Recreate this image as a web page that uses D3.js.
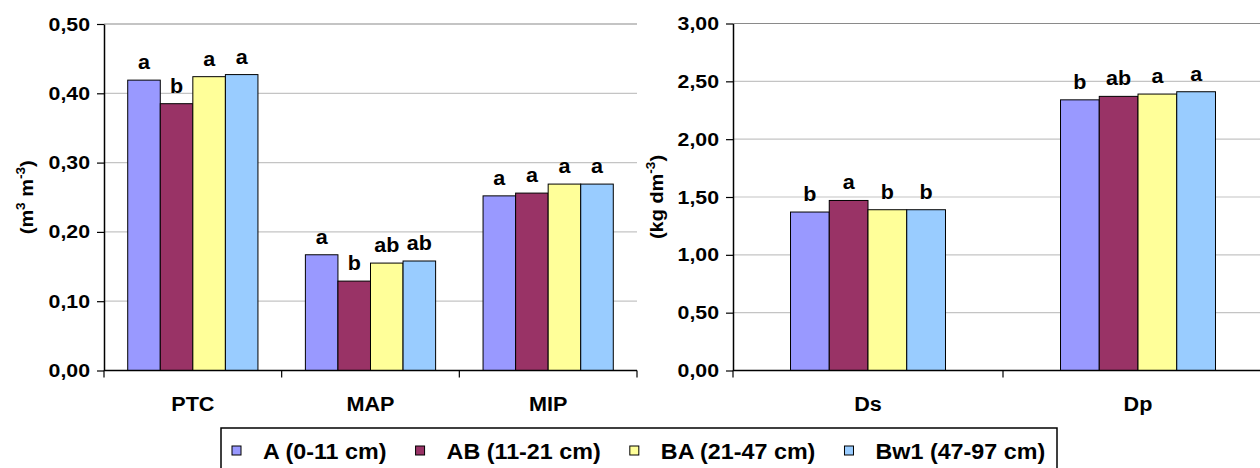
<!DOCTYPE html>
<html>
<head>
<meta charset="utf-8">
<script src="https://cdn.jsdelivr.net/npm/d3@7"></script>
<style>
  body { margin: 0; background: #fff; }
  svg { display: block; font-family: "Liberation Sans", Arial, sans-serif; font-weight: bold; }
</style>
</head>
<body>
<svg width="1260" height="468"></svg>
<script>
(function () {

  // horizons (series) and colours
  const horizons = ['A (0-11 cm)', 'AB (11-21 cm)', 'BA (21-47 cm)', 'Bw1 (47-97 cm)'];
  const colors = ['#9999FF', '#993366', '#FFFF99', '#99CCFF'];

  // left panel: porosity
  const poroCats = ['PTC', 'MAP', 'MIP'];
  const poroA = [0.419, 0.167, 0.252];
  const poroAB = [0.385, 0.129, 0.256];
  const poroBA = [0.424, 0.155, 0.269];
  const poroBw1 = [0.427, 0.158, 0.269];
  const poroLettersA = ['a', 'a', 'a'];
  const poroLettersAB = ['b', 'b', 'a'];
  const poroLettersBA = ['a', 'ab', 'a'];
  const poroLettersBw1 = ['a', 'ab', 'a'];
  const poroTicks = [0, 0.1, 0.2, 0.3, 0.4, 0.5];

  // right panel: density
  const densCats = ['Ds', 'Dp'];
  const densA = [1.37, 2.34];
  const densAB = [1.47, 2.37];
  const densBA = [1.39, 2.39];
  const densBw1 = [1.39, 2.41];
  const densLettersA = ['b', 'b'];
  const densLettersAB = ['a', 'ab'];
  const densLettersBA = ['b', 'a'];
  const densLettersBw1 = ['b', 'a'];
  const densTicks = [0, 0.5, 1, 1.5, 2, 2.5, 3];

  const locale = d3.formatLocale({ decimal: ',', thousands: '.', grouping: [3], currency: ['', ''] });
  const fmt = locale.format('.2f');

  const svg = d3.select('svg');

  function stretched(sel, s) {
    sel.each(function () {
      const t = d3.select(this);
      const x = +t.attr('x') || 0, y = +t.attr('y') || 0;
      t.attr('x', 0).attr('y', 0).attr('transform', `translate(${x},${y}) scale(${s},1)`);
    });
  }

  function panel(opt) {
    const x0 = d3.scaleBand().domain(opt.cats).range([opt.left, opt.right]);
    const inner = x0.bandwidth() * (1 - opt.group) / 2;
    const x1 = d3.scaleBand().domain(horizons).range([inner, x0.bandwidth() - inner]);
    const y = d3.scaleLinear().domain([0, opt.max]).range([opt.bottom, opt.top]);
    const g = svg.append('g');

    // gridlines
    g.selectAll('line.grid').data(opt.ticks.slice(1)).join('line')
      .attr('x1', opt.left).attr('x2', opt.right)
      .attr('y1', d => y(d)).attr('y2', d => y(d))
      .attr('stroke', (d, i, n) => i === n.length - 1 ? '#8a8a8a' : '#c4c4c4')
      .attr('stroke-width', 1.2);

    // bars
    const rows = opt.cats.map((c, i) => horizons.map((h, j) => ({ c, h, v: opt.values[j][i], l: opt.letters[j][i], col: colors[j] })));
    const grp = g.selectAll('g.cat').data(rows).join('g')
      .attr('transform', (d, i) => `translate(${x0(opt.cats[i])},0)`);
    grp.selectAll('rect').data(d => d).join('rect')
      .attr('x', d => x1(d.h)).attr('width', x1.bandwidth())
      .attr('y', d => y(d.v)).attr('height', d => y(0) - y(d.v))
      .attr('fill', d => d.col).attr('stroke', '#000').attr('stroke-width', 1);
    grp.selectAll('text').data(d => d).join('text')
      .attr('x', d => x1(d.h) + x1.bandwidth() / 2).attr('y', d => y(d.v) - 11)
      .attr('text-anchor', 'middle').attr('font-size', 20.5).text(d => d.l)
      .call(stretched, 1.05);

    // y axis
    const ya = g.append('g').attr('transform', `translate(${opt.left},0)`)
      .call(d3.axisLeft(y).tickValues(opt.ticks).tickFormat(fmt).tickSize(7).tickSizeOuter(0));
    ya.select('.domain').attr('stroke', '#000').attr('stroke-width', 1.5);
    ya.selectAll('.tick line').attr('stroke', '#000').attr('stroke-width', 1.2);
    ya.selectAll('.tick text').attr('font-size', 19).attr('fill', '#000')
      .attr('font-family', null).attr('x', -opt.labelGap / 1.12)
      .attr('transform', 'scale(1.12,1)');

    // x axis with ticks at category boundaries
    g.append('line').attr('x1', opt.left).attr('x2', opt.right)
      .attr('y1', y(0)).attr('y2', y(0)).attr('stroke', '#000').attr('stroke-width', 1.5);
    const bounds = opt.cats.map(c => x0(c)).concat([opt.right]);
    g.selectAll('line.xt').data(bounds).join('line')
      .attr('x1', d => d).attr('x2', d => d)
      .attr('y1', y(0)).attr('y2', y(0) + 7)
      .attr('stroke', '#000').attr('stroke-width', 1.2);
    g.selectAll('text.cat').data(opt.cats).join('text')
      .attr('x', d => x0(d) + x0.bandwidth() / 2).attr('y', 411)
      .attr('text-anchor', 'middle').attr('font-size', 21).text(d => d)
      .call(stretched, 1.03);

    // y title
    const t = g.append('text')
      .attr('transform', `translate(${opt.titleX},${(opt.top + opt.bottom) / 2}) rotate(-90) scale(1.05,1)`)
      .attr('text-anchor', 'middle').attr('font-size', 19);
    opt.title.forEach(p => {
      t.append('tspan').text(p[0])
        .attr('font-size', p[1] ? 13 : 19)
        .attr('dy', p[1] ? -8 : (p[2] ? 8 : 0));
    });
  }

  panel({
    cats: poroCats, values: [poroA, poroAB, poroBA, poroBw1],
    letters: [poroLettersA, poroLettersAB, poroLettersBA, poroLettersBw1],
    left: 104, right: 637, top: 24, bottom: 370.5, max: 0.5, ticks: poroTicks,
    group: 0.733, labelGap: 14, titleX: 33,
    title: [['(m'], ['3', true], [' m', false, true], ['-3', true], [')', false, true]]
  });

  panel({
    cats: densCats, values: [densA, densAB, densBA, densBw1],
    letters: [densLettersA, densLettersAB, densLettersBA, densLettersBw1],
    left: 733, right: 1273, top: 23.5, bottom: 370.5, max: 3, ticks: densTicks,
    group: 0.574, labelGap: 14, titleX: 663,
    title: [['(kg dm'], ['-3', true], [')', false, true]]
  });

  // legend
  const leg = svg.append('g');
  leg.append('rect').attr('x', 221).attr('y', 428).attr('width', 836).attr('height', 50)
    .attr('fill', '#fff').attr('stroke', '#000').attr('stroke-width', 1.5);
  let lx = 232;
  horizons.forEach((h, i) => {
    leg.append('rect').attr('x', lx).attr('y', 446).attr('width', 9).attr('height', 9)
      .attr('fill', colors[i]).attr('stroke', '#000').attr('stroke-width', 1);
    const tx = leg.append('text').attr('x', lx + 31).attr('y', 459).attr('font-size', 22).text(h);
    const w = tx.node().getComputedTextLength() * 1.06;
    tx.call(stretched, 1.06);
    lx += 31 + w + 29;
  });

})();
</script>
</body>
</html>
